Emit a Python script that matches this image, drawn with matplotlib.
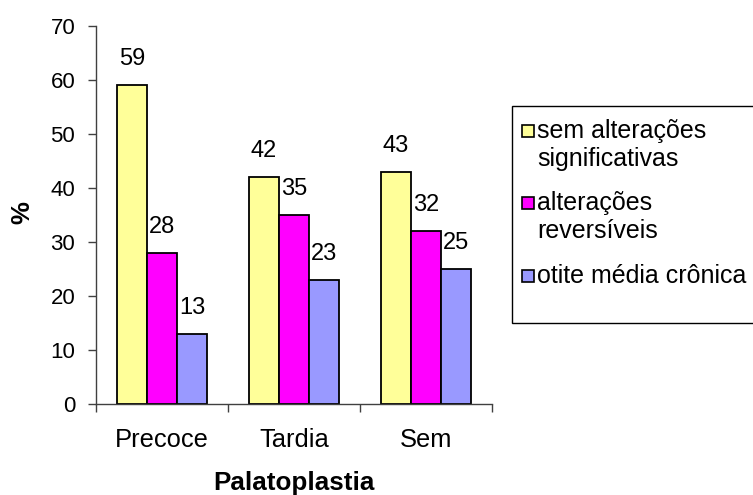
import matplotlib
matplotlib.use('Agg')
import matplotlib.pyplot as plt
from matplotlib.patches import Rectangle
import numpy as np

plt.rcParams['font.family'] = ['Liberation Sans', 'DejaVu Sans']

categories = ['Precoce', 'Tardia', 'Sem']
series_names = ['sem alterações\nsignificativas', 'alterações\nreversíveis',
                'otite média crônica']
sem_alteracoes = [59, 42, 43]
alteracoes_reversiveis = [28, 35, 32]
otite_cronica = [13, 23, 25]
colors = ['#FFFF99', '#FF00FF', '#9999FF']

W, H = 753, 495
fig = plt.figure(figsize=(W / 100, H / 100), dpi=100)
ax = fig.add_axes([96 / W, 1 - 404 / H, (492 - 96) / W, (404 - 26) / H])

x = np.arange(len(categories))
width = 0.227
all_series = [sem_alteracoes, alteracoes_reversiveis, otite_cronica]
for i, vals in enumerate(all_series):
    bars = ax.bar(x + (i - 1) * width, vals, width, color=colors[i],
                  edgecolor='black', linewidth=1.3)
    ax.bar_label(bars, labels=[str(v) for v in vals], padding=11, fontsize=17)

ax.set_xlim(-0.5, 2.5)
ax.set_ylim(0, 70)
ax.set_yticks(range(0, 71, 10))
ax.tick_params(axis='y', direction='out', length=6, width=1, color='#404040',
               labelsize=16, pad=9)
ax.set_xticks([-0.5, 0.5, 1.5, 2.5])
ax.set_xticklabels([])
ax.set_xticks(x, minor=True)
ax.set_xticklabels(categories, minor=True)
ax.tick_params(axis='x', which='major', direction='out', length=6, width=1,
               color='#404040')
ax.tick_params(axis='x', which='minor', length=0, labelsize=18.4, pad=17)
for s in ['top', 'right']:
    ax.spines[s].set_visible(False)
for s in ['left', 'bottom']:
    ax.spines[s].set_color('#404040')
    ax.spines[s].set_linewidth(1)

fig.text(294 / W, 1 - 483 / H, 'Palatoplastia', ha='center', va='center',
         fontsize=18.7, fontweight='bold')
fig.text(22 / W, 1 - 213 / H, '%', ha='center', va='center', rotation=90,
         fontsize=18.5, fontweight='bold')

# legend box, running off the right edge like the original
fig.patches.append(Rectangle((512 / W, 1 - 323 / H), 300 / W, 217 / H,
                             transform=fig.transFigure, facecolor='white',
                             edgecolor='black', linewidth=1))
marker_y = [131, 203, 276]
for name, col, my in zip(series_names, colors, marker_y):
    fig.patches.append(Rectangle((522 / W, 1 - (my + 6) / H), 12 / W, 12 / H,
                                 transform=fig.transFigure, facecolor=col,
                                 edgecolor='black', linewidth=1.2))
    fig.text(537 / W, 1 - (my - 12) / H, name, ha='left', va='top',
             fontsize=18, linespacing=1.23)

fig.savefig('out.png', dpi=100)
